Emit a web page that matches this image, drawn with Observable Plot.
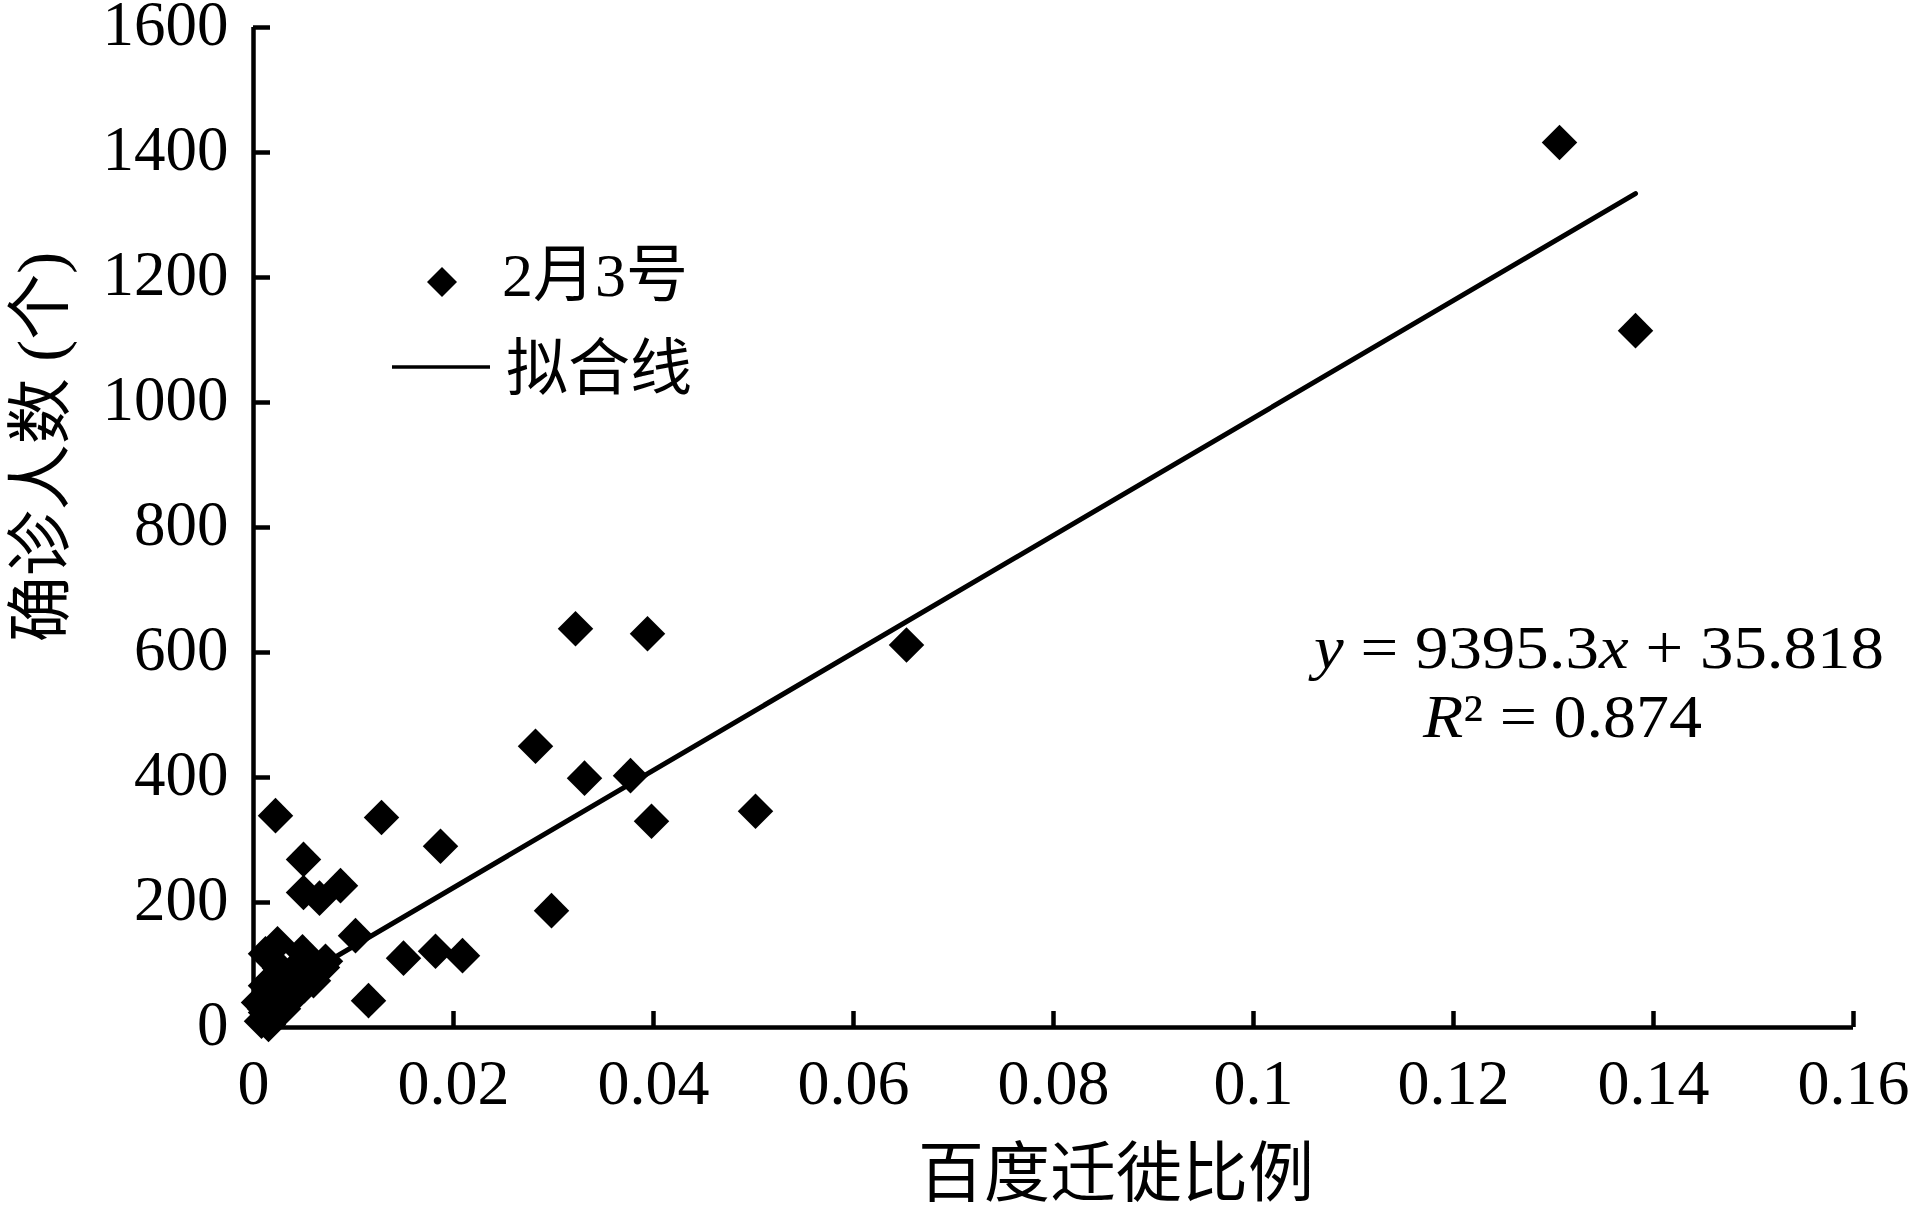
<!DOCTYPE html>
<html>
<head>
<meta charset="utf-8">
<script src="https://cdn.jsdelivr.net/npm/d3@7"></script>
<script src="https://cdn.jsdelivr.net/npm/@observablehq/plot@0.6"></script>
<style>
  html, body { margin: 0; padding: 0; background: #fff; }
  #chart { width: 1913px; height: 1212px; }
</style>
</head>
<body>
<div id="chart"></div>
<script>
// ---- data ----
const migrationRatio = [
  0.0022, 0.0128, 0.0187, 0.0050, 0.0050, 0.0066, 0.0087, 0.0102, 0.0150, 0.0182,
  0.0209, 0.0115, 0.0322, 0.0394, 0.0282, 0.0331, 0.0377, 0.0398, 0.0502, 0.0298,
  0.0653, 0.1306, 0.1382,
  0.0024, 0.0049, 0.0012, 0.0072, 0.0069, 0.0051, 0.0034, 0.0012, 0.0011, 0.0012,
  0.0022, 0.0040, 0.0055, 0.0035, 0.0020, 0.0045, 0.0018, 0.0008, 0.0015, 0.0060,
  0.0030, 0.0026, 0.0005
];
const confirmedCases = [
  339, 336, 290, 269, 216, 207, 227, 147, 111, 122,
  115, 43, 638, 630, 450, 399, 403, 330, 346, 187,
  612, 1416, 1115,
  134, 121, 118, 106, 96, 67, 40, 24, 30, 67,
  20, 80, 85, 60, 50, 100, 75, 10, 5, 75,
  30, 95, 40
];
const xTicks = [0, 0.02, 0.04, 0.06, 0.08, 0.1, 0.12, 0.14, 0.16];
const yTicks = [0, 200, 400, 600, 800, 1000, 1200, 1400, 1600];
const slope = 9395.3;
const intercept = 35.818;
const rSquared = 0.874;
const seriesLabel = "2月3号";
const fitLabel = "拟合线";
const xTitle = "百度迁徙比例";
const yTitle = "确诊人数 (个)";

// ---- tables built from the arrays ----
const points = migrationRatio.map((x, i) => ({x, y: confirmedCases[i]}));
const xExtent = d3.extent(migrationRatio);
const fit = xExtent.map(x => ({x, y: slope * x + intercept}));

const serif = "'Liberation Serif', 'Times New Roman', 'Noto Sans CJK SC', serif";

const plot = Plot.plot({
  width: 1913,
  height: 1212,
  marginLeft: 253,
  marginRight: 60,
  marginTop: 27,
  marginBottom: 185,
  x: {domain: [0, 0.16]},
  y: {domain: [0, 1600]},
  style: {fontFamily: serif, background: "white", color: "black", overflow: "visible"},
  marks: [
    Plot.line(fit, {x: "x", y: "y", stroke: "black", strokeWidth: 5}),
    Plot.dot(points, {x: "x", y: "y", symbol: "diamond2", r: 16, fill: "black", stroke: "none"}),
    Plot.ruleX([0], {stroke: "black", strokeWidth: 4.5}),
    Plot.ruleY([0], {stroke: "black", strokeWidth: 4.5}),
    // tick marks (pointing inward)
    Plot.axisX({ticks: xTicks, tickSize: -16, tickFormat: () => "", strokeWidth: 4.5, label: null}),
    Plot.axisY({ticks: yTicks, tickSize: -17, tickFormat: () => "", strokeWidth: 4.5, label: null}),
    // tick labels
    Plot.axisX({ticks: xTicks, tickSize: 0, tickPadding: 31, fontSize: 64, fontFamily: serif,
      tickFormat: d => String(+d.toFixed(2)), label: null}),
    Plot.axisY({ticks: yTicks, tickSize: 0, tickPadding: 25, fontSize: 63, fontFamily: serif,
      dy: -3, tickFormat: d => String(d), label: null})
  ]
});

document.getElementById("chart").appendChild(plot);

// ---- legend, equation and axis titles ----
const svg = d3.select(plot);
const g = svg.append("g").attr("fill", "black").attr("text-anchor", "start")
  .style("font-family", serif);

// legend
g.append("path")
  .attr("d", d3.symbol(d3.symbolDiamond2, 574)())
  .attr("transform", "translate(442,282)");
g.append("text").attr("x", 502).attr("y", 296).attr("font-size", 62)
  .attr("text-anchor", "start").text(seriesLabel);
g.append("line").attr("x1", 392).attr("x2", 490).attr("y1", 367).attr("y2", 367)
  .attr("stroke", "black").attr("stroke-width", 3.5);
g.append("text").attr("x", 506).attr("y", 390).attr("font-size", 62)
  .attr("text-anchor", "start").text(fitLabel);

// equation
const eq1 = g.append("text").attr("x", 1314).attr("y", 668).attr("font-size", 62)
  .attr("text-anchor", "start")
  .attr("textLength", 570).attr("lengthAdjust", "spacingAndGlyphs");
eq1.append("tspan").attr("font-style", "italic").text("y");
eq1.append("tspan").text(` = ${slope}`);
eq1.append("tspan").attr("font-style", "italic").text("x");
eq1.append("tspan").text(` + ${intercept}`);

const eq2 = g.append("text").attr("x", 1423).attr("y", 737).attr("font-size", 62)
  .attr("text-anchor", "start")
  .attr("textLength", 279).attr("lengthAdjust", "spacingAndGlyphs");
eq2.append("tspan").attr("font-style", "italic").text("R");
eq2.append("tspan").text(`² = ${rSquared}`);

// axis titles
g.append("text").attr("x", 1116).attr("y", 1196).attr("font-size", 66)
  .attr("text-anchor", "middle").text(xTitle);
g.append("text").attr("transform", "translate(63,447) rotate(-90)").attr("font-size", 66)
  .attr("text-anchor", "middle").text(yTitle);
</script>
</body>
</html>
